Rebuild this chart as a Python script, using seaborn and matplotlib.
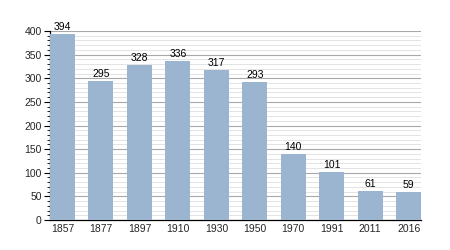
import matplotlib
matplotlib.use("Agg")
import matplotlib.pyplot as plt
import seaborn as sns
import pandas as pd
from matplotlib.ticker import MultipleLocator

years = ["1857", "1877", "1897", "1910", "1930", "1950", "1970", "1991", "2011", "2016"]
population = [394, 295, 328, 336, 317, 293, 140, 101, 61, 59]

sns.set_theme(style="white")
plt.rcParams['font.family'] = ['Liberation Sans', 'DejaVu Sans']

df = pd.DataFrame({"year": years, "pop": population})

fig = plt.figure(figsize=(4.5, 2.5), dpi=100)
ax = fig.add_axes([0.111, 0.12, 0.825, 0.756])

w = 0.65
sns.barplot(data=df, x="year", y="pop", color="#9bb4cf", width=w, ax=ax,
            saturation=1, edgecolor="none", zorder=3)

ax.set_xlim(-w / 2, len(years) - 1 + w / 2)
ax.set_ylim(0, 400)
ax.yaxis.set_major_locator(MultipleLocator(50))
ax.yaxis.set_minor_locator(MultipleLocator(10))
ax.grid(which="major", axis="y", color="#a8a8a8", linewidth=0.8, zorder=0)
ax.grid(which="minor", axis="y", color="#dedede", linewidth=0.6, zorder=0)
ax.set_axisbelow(True)

for s in ["top", "right"]:
    ax.spines[s].set_visible(False)
for s in ["left", "bottom"]:
    ax.spines[s].set_color("black")
    ax.spines[s].set_linewidth(0.9)

ax.tick_params(axis="y", which="major", length=4, width=0.8, color="black",
               labelsize=7.5, left=True, pad=2)
ax.tick_params(axis="y", which="minor", length=2, width=0.6, color="black", left=True)
ax.tick_params(axis="x", length=0, labelsize=7.5, pad=3)

for i, v in enumerate(population):
    ax.text(i, v + 4, str(v), ha="center", va="bottom", fontsize=7.5, color="black")

ax.set_xlabel("")
ax.set_ylabel("")

fig.savefig("out.png", dpi=100)
